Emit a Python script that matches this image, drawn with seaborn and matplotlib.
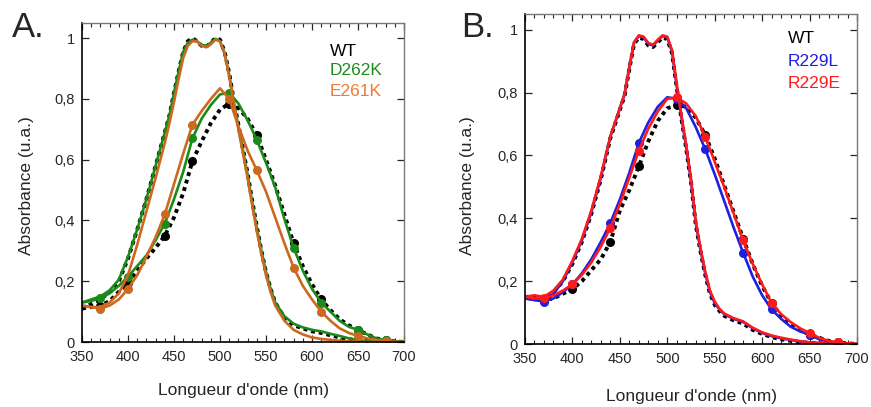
import numpy as np
import matplotlib
matplotlib.use("Agg")
import matplotlib.pyplot as plt
from matplotlib.ticker import MultipleLocator, FuncFormatter
import seaborn as sns

# wavelength grids (nm)
wl_narrow = [350, 360, 370, 380, 390, 400, 410, 420, 430, 440,
             445, 450, 455, 460, 465, 470, 475, 480, 485, 490, 495, 500,
             505, 510, 515, 520, 525, 530, 535, 540, 545, 550, 555, 560,
             570, 580, 590, 600, 610, 620, 630, 640, 650, 660, 670, 680, 690, 700]
wl_broad = np.arange(350, 701, 10)

# --- panel A: narrow (double peak) spectra
a_narrow_wt = [0.11, 0.125, 0.14, 0.165, 0.20, 0.275, 0.37, 0.47, 0.58, 0.69,
               0.745, 0.82, 0.89, 0.955, 0.99, 1.0, 0.99, 0.975, 0.972, 0.985, 1.0, 0.995,
               0.955, 0.885, 0.795, 0.715, 0.635, 0.555, 0.465, 0.38, 0.30, 0.23, 0.175, 0.13,
               0.08, 0.055, 0.045, 0.035, 0.03, 0.022, 0.015, 0.009, 0.005, 0.003, 0.001, 0, 0, 0]
a_narrow_d262k = [0.13, 0.14, 0.15, 0.17, 0.205, 0.28, 0.37, 0.47, 0.58, 0.69,
                  0.745, 0.82, 0.89, 0.955, 0.985, 0.995, 0.99, 0.978, 0.975, 0.985, 0.998, 0.99,
                  0.95, 0.88, 0.79, 0.71, 0.63, 0.55, 0.46, 0.375, 0.30, 0.23, 0.175, 0.13,
                  0.085, 0.06, 0.048, 0.04, 0.035, 0.027, 0.02, 0.012, 0.006, 0.003, 0.001, 0, 0, 0]
a_narrow_e261k = [0.12, 0.115, 0.115, 0.13, 0.16, 0.22, 0.32, 0.43, 0.54, 0.655,
                  0.72, 0.79, 0.865, 0.935, 0.975, 0.99, 0.99, 0.975, 0.97, 0.98, 0.995, 0.99,
                  0.95, 0.875, 0.785, 0.70, 0.62, 0.54, 0.45, 0.365, 0.29, 0.22, 0.165, 0.12,
                  0.07, 0.04, 0.025, 0.015, 0.01, 0.007, 0.004, 0.002, 0.001, 0, 0, 0, 0, 0]

# --- panel A: broad spectra
a_broad_wt = [0.11, 0.115, 0.12, 0.135, 0.165, 0.195, 0.235, 0.275, 0.31, 0.35,
              0.41, 0.49, 0.595, 0.66, 0.72, 0.765, 0.785, 0.77, 0.735, 0.68,
              0.60, 0.515, 0.42, 0.325, 0.25, 0.19, 0.14, 0.105, 0.075, 0.055,
              0.04, 0.025, 0.012, 0.005, 0.002, 0]
a_broad_d262k = [0.13, 0.135, 0.145, 0.16, 0.185, 0.215, 0.25, 0.285, 0.335, 0.39,
                 0.47, 0.56, 0.67, 0.735, 0.78, 0.815, 0.82, 0.785, 0.73, 0.665,
                 0.59, 0.51, 0.405, 0.31, 0.235, 0.175, 0.13, 0.10, 0.07, 0.05,
                 0.04, 0.025, 0.012, 0.005, 0.002, 0]
a_broad_e261k = [0.12, 0.115, 0.11, 0.12, 0.14, 0.175, 0.22, 0.28, 0.345, 0.42,
                 0.52, 0.62, 0.715, 0.76, 0.80, 0.835, 0.80, 0.71, 0.63, 0.565,
                 0.495, 0.41, 0.325, 0.245, 0.185, 0.14, 0.10, 0.07, 0.045, 0.03,
                 0.02, 0.012, 0.006, 0.003, 0.001, 0]

# --- panel B: narrow spectra
b_narrow_wt = [0.15, 0.15, 0.145, 0.165, 0.20, 0.255, 0.325, 0.415, 0.525, 0.655,
               0.70, 0.745, 0.79, 0.875, 0.955, 0.975, 0.97, 0.95, 0.945, 0.96, 0.975, 0.97,
               0.925, 0.815, 0.715, 0.62, 0.515, 0.38, 0.295, 0.22, 0.16, 0.125, 0.105, 0.09,
               0.075, 0.065, 0.045, 0.032, 0.022, 0.015, 0.01, 0.006, 0.003, 0.002, 0.001, 0, 0, 0]
b_narrow_r229l = [0.145, 0.14, 0.14, 0.16, 0.20, 0.26, 0.33, 0.42, 0.53, 0.66,
                  0.705, 0.75, 0.795, 0.88, 0.96, 0.98, 0.975, 0.955, 0.95, 0.965, 0.98, 0.975,
                  0.93, 0.82, 0.72, 0.625, 0.52, 0.385, 0.30, 0.225, 0.165, 0.13, 0.11, 0.095,
                  0.08, 0.07, 0.05, 0.035, 0.025, 0.018, 0.013, 0.008, 0.005, 0.003, 0.001, 0, 0, 0]
b_narrow_r229e = [0.15, 0.155, 0.15, 0.17, 0.205, 0.265, 0.335, 0.425, 0.535, 0.66,
                  0.705, 0.75, 0.795, 0.88, 0.96, 0.982, 0.978, 0.958, 0.952, 0.968, 0.982, 0.978,
                  0.935, 0.825, 0.725, 0.63, 0.525, 0.39, 0.305, 0.23, 0.17, 0.135, 0.112, 0.097,
                  0.082, 0.072, 0.052, 0.037, 0.027, 0.02, 0.014, 0.009, 0.005, 0.003, 0.001, 0, 0, 0]

# --- panel B: broad spectra
b_broad_wt = [0.15, 0.145, 0.14, 0.145, 0.16, 0.175, 0.20, 0.235, 0.27, 0.325,
              0.425, 0.49, 0.565, 0.645, 0.71, 0.75, 0.76, 0.755, 0.72, 0.665,
              0.59, 0.505, 0.42, 0.335, 0.255, 0.185, 0.13, 0.09, 0.065, 0.045,
              0.03, 0.02, 0.01, 0.005, 0.002, 0]
b_broad_r229l = [0.145, 0.14, 0.135, 0.145, 0.165, 0.19, 0.225, 0.27, 0.325, 0.385,
                 0.46, 0.545, 0.64, 0.705, 0.755, 0.785, 0.78, 0.75, 0.69, 0.62,
                 0.54, 0.455, 0.37, 0.29, 0.215, 0.155, 0.11, 0.08, 0.055, 0.04,
                 0.03, 0.015, 0.008, 0.004, 0.001, 0]
b_broad_r229e = [0.15, 0.145, 0.145, 0.155, 0.17, 0.19, 0.22, 0.26, 0.31, 0.37,
                 0.445, 0.53, 0.615, 0.685, 0.74, 0.78, 0.785, 0.765, 0.725, 0.66,
                 0.58, 0.50, 0.415, 0.33, 0.255, 0.19, 0.13, 0.095, 0.07, 0.05,
                 0.035, 0.02, 0.01, 0.005, 0.002, 0]

labels_a = ["WT", "D262K", "E261K"]
labels_b = ["WT", "R229L", "R229E"]

colors_a = ["black", "#1a8a1a", "#cd691e"]
text_colors_a = ["black", "#1e8c1e", "#ee7a35"]
colors_b = ["black", "#1f1fe0", "#ff1a1a"]
text_colors_b = ["black", "#1f1fe0", "#ff1a1a"]

# circle markers on the broad curves, every ~35 nm
MARK_IDX = [2, 5, 9, 12, 16, 19, 23, 26, 30, 33]

sns.set_style("ticks")
plt.rcParams["font.family"] = ["Liberation Sans", "DejaVu Sans"]


def comma_fmt(v, pos):
    return f"{v:g}".replace(".", ",")


def draw_curve(ax, x, y, color, wt, markers):
    kw = dict(x=x, y=y, ax=ax, color=color, estimator=None, sort=False)
    if wt:
        kw.update(linewidth=2.8, linestyle=(0, (1, 1)), dash_capstyle="butt")
    else:
        kw.update(linewidth=1.9)
    if markers:
        kw.update(marker="o", markersize=6.5, markevery=MARK_IDX,
                  markeredgecolor=color, markerfacecolor=color, markeredgewidth=0)
    sns.lineplot(**kw)


def draw_panel(ax, narrow, broad, colors, labels, text_colors, leg_xy, xl, yl):
    for i in range(3):
        draw_curve(ax, wl_narrow, narrow[i], colors[i], i == 0, False)
        draw_curve(ax, wl_broad, broad[i], colors[i], i == 0, True)

    ax.set_xlim(350, 700)
    ax.set_ylim(0, 1.05)
    ax.xaxis.set_major_locator(MultipleLocator(50))
    ax.xaxis.set_minor_locator(MultipleLocator(10))
    ax.yaxis.set_major_locator(MultipleLocator(0.2))
    ax.yaxis.set_major_formatter(FuncFormatter(comma_fmt))
    ax.tick_params(which="both", direction="in", top=True, right=True, labelsize=10.5)
    ax.tick_params(which="major", length=5, width=0.9)
    ax.tick_params(axis="x", which="major", pad=6)
    ax.tick_params(axis="y", which="major", pad=5)
    ax.tick_params(which="minor", length=3, width=0.8)
    for side in ["left", "bottom"]:
        ax.spines[side].set_color("black")
        ax.spines[side].set_linewidth(1.2)
    for side in ["top", "right"]:
        ax.spines[side].set_color("#777777")
        ax.spines[side].set_linewidth(1.0)

    ax.set_xlabel("Longueur d'onde (nm)", fontsize=12.5)
    ax.set_ylabel("Absorbance (u.a.)", fontsize=12.5)
    ax.xaxis.set_label_coords(*xl)
    ax.yaxis.set_label_coords(*yl)

    x0, ys = leg_xy
    for lab, c, y in zip(labels, text_colors, ys):
        ax.text(x0, y, lab, color=c, fontsize=12.5, va="center", ha="left",
                transform=ax.transAxes)


fig = plt.figure(figsize=(8.71, 4.07), dpi=100)
ax_a = fig.add_axes([82 / 871, 65 / 407, 322 / 871, 319 / 407])
ax_b = fig.add_axes([525 / 871, 63 / 407, 332 / 871, 330 / 407])

draw_panel(ax_a,
           [a_narrow_wt, a_narrow_d262k, a_narrow_e261k],
           [a_broad_wt, a_broad_d262k, a_broad_e261k],
           colors_a, labels_a, text_colors_a,
           (0.77, [0.912, 0.85, 0.785]), (0.50, -0.127), (-0.149, 0.49))
draw_panel(ax_b,
           [b_narrow_wt, b_narrow_r229l, b_narrow_r229e],
           [b_broad_wt, b_broad_r229l, b_broad_r229e],
           colors_b, labels_b, text_colors_b,
           (0.792, [0.927, 0.857, 0.79]), (0.50, -0.135), (-0.151, 0.48))

fig.text(12 / 871, 1 - 37 / 407, "A.", fontsize=25, va="baseline", ha="left")
fig.text(461 / 871, 1 - 37 / 407, "B.", fontsize=25, va="baseline", ha="left")

fig.savefig("out.png", dpi=100)
